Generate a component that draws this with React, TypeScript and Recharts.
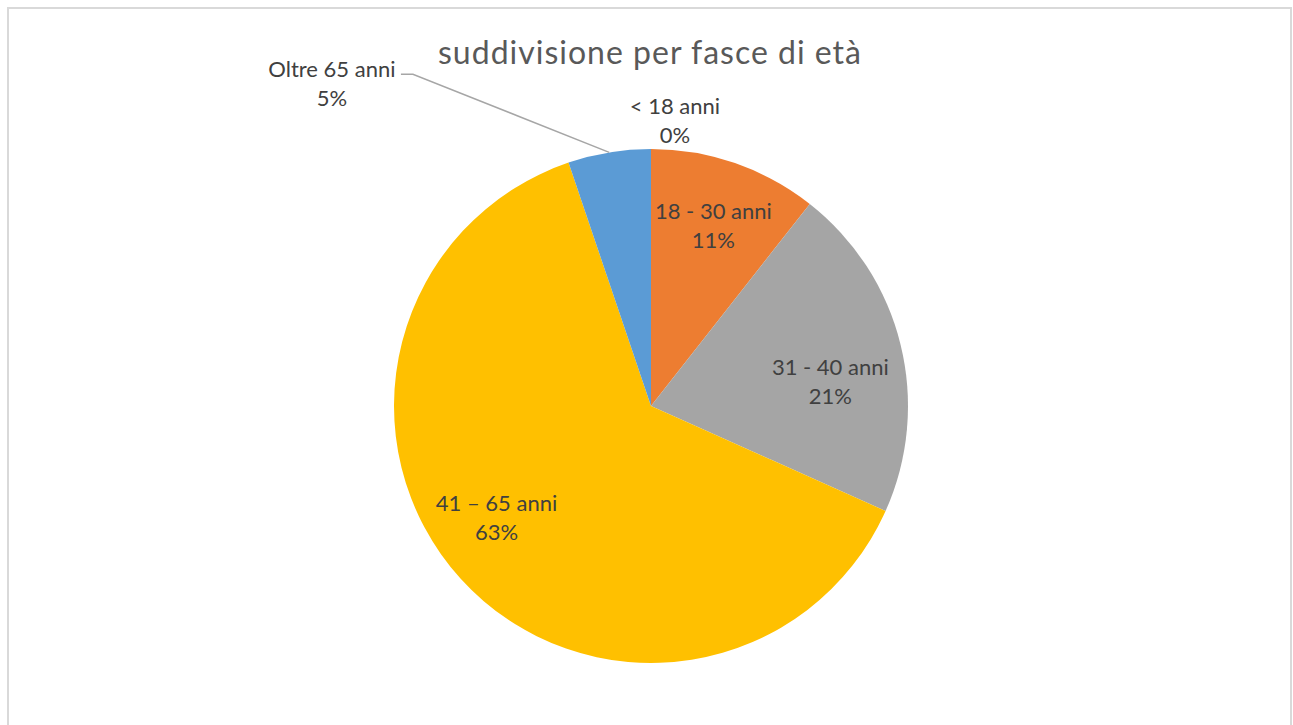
import React from 'react';
import { PieChart, Pie, Cell } from 'recharts';

// fasce di età e quote (%)
const categories = ['< 18 anni', '18 - 30 anni', '31 - 40 anni', '41 – 65 anni', 'Oltre 65 anni'];
const shares = [0, 10.6, 21.1, 63.1, 5.2];
const colors = ['#4472C4', '#ED7D31', '#A5A5A5', '#FFC000', '#5B9BD5'];

const data = categories.map((name, i) => ({ name, value: shares[i] }));

// where each label sits, relative to the slice's mid angle (r = fraction of radius)
const labelPlacement = [
  { r: 1.113, da: -4.8, leader: false },
  { r: 0.743, da: 0, leader: false },
  { r: 0.704, da: -6.2, leader: false },
  { r: 0.743, da: -6.3, leader: false },
  { r: 1.589, da: 26.3, leader: true },
];

const RADIAN = Math.PI / 180;
const FONT = 'Lato, "Open Sans", sans-serif';
const TEXT = '#404040';

const renderLabel = (props: any) => {
  const { cx, cy, midAngle, outerRadius, percent, index, name } = props;
  const p = labelPlacement[index];
  const a = (midAngle + p.da) * RADIAN;
  const x = cx + outerRadius * p.r * Math.cos(a);
  const y = cy - outerRadius * p.r * Math.sin(a);
  const pct = `${Math.round(percent * 100)}%`;

  if (p.leader) {
    const m = midAngle * RADIAN;
    const ex = cx + outerRadius * Math.cos(m);
    const ey = cy - outerRadius * Math.sin(m);
    const tx = x - 81;
    return (
      <g>
        <polyline
          points={`${ex},${ey} ${x},${y} ${x - 12},${y}`}
          fill="none"
          stroke="#A6A6A6"
          strokeWidth={1.5}
        />
        <text x={tx} y={y + 3} textAnchor="middle" fontFamily={FONT} fontSize={22} fill={TEXT}>
          {name}
        </text>
        <text x={tx} y={y + 32} textAnchor="middle" fontFamily={FONT} fontSize={22} fill={TEXT}>
          {pct}
        </text>
      </g>
    );
  }

  return (
    <g>
      <text x={x} y={y - 7} textAnchor="middle" fontFamily={FONT} fontSize={22} fill={TEXT}>
        {name}
      </text>
      <text x={x} y={y + 22} textAnchor="middle" fontFamily={FONT} fontSize={22} fill={TEXT}>
        {pct}
      </text>
    </g>
  );
};

export default function App() {
  return (
    <div
      style={{
        position: 'fixed',
        left: 7,
        top: 7,
        width: 1285,
        height: 730,
        border: '2px solid #D9D9D9',
        boxSizing: 'border-box',
        background: '#fff',
      }}
    >
      <svg width={1281} height={80} style={{ position: 'absolute', left: 0, top: 0 }}>
        <text
          x={641}
          y={55}
          textAnchor="middle"
          fontFamily={FONT}
          fontSize={32}
          letterSpacing={1}
          fill="#595959"
        >
          suddivisione per fasce di età
        </text>
      </svg>
      <PieChart width={1281} height={716}>
        <Pie
          data={data}
          dataKey="value"
          nameKey="name"
          cx={637}
          cy={392}
          outerRadius={257}
          startAngle={90}
          endAngle={-270}
          stroke="none"
          labelLine={false}
          label={renderLabel}
          isAnimationActive={false}
        >
          {data.map((d, i) => (
            <Cell key={d.name} fill={colors[i]} />
          ))}
        </Pie>
      </PieChart>
    </div>
  );
}
